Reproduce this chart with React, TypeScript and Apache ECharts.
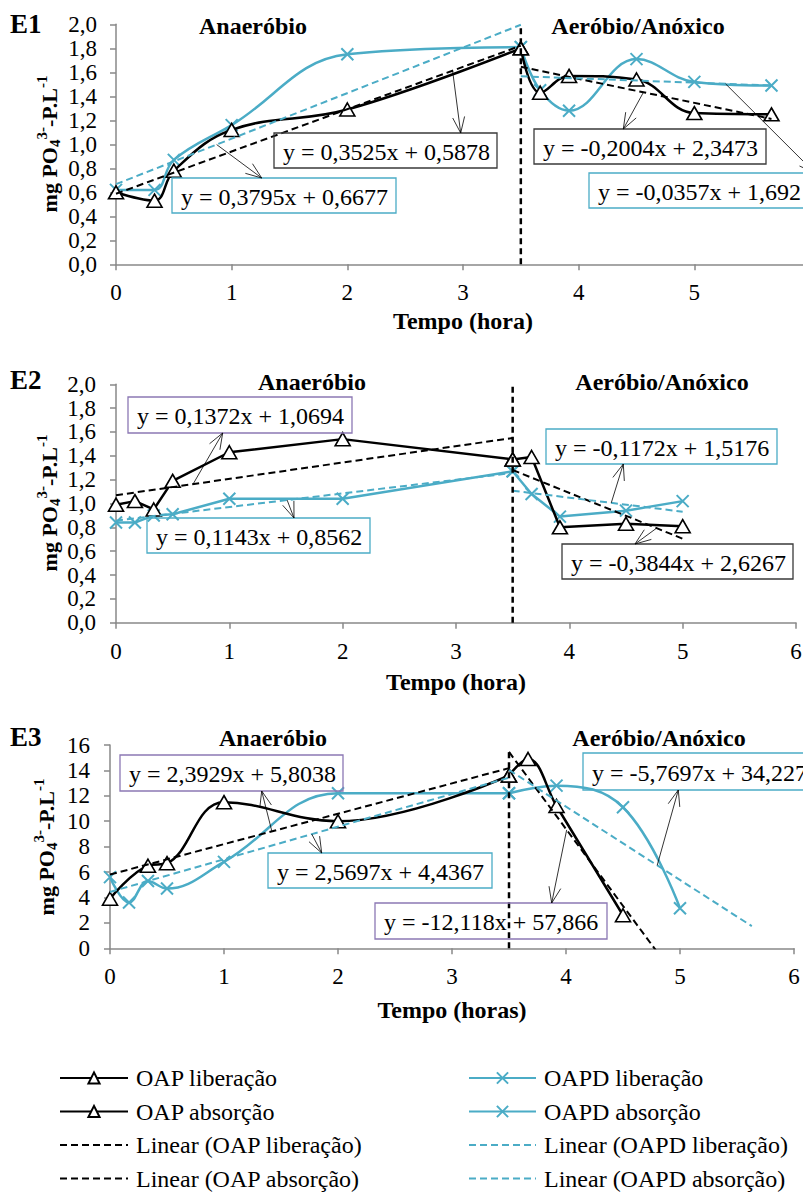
import React, { useEffect, useRef } from 'react';
import * as echarts from 'echarts';

// ---------- measured phosphate (mg PO4-P/L) per experiment ----------
// E1
const e1LibHours = [0, 0.333, 0.5, 1, 2, 3.5];
const e1AbsHours = [3.5, 3.667, 3.917, 4.5, 5, 5.667];
const e1OapLib = [0.6, 0.53, 0.78, 1.12, 1.29, 1.8];
const e1OapAbs = [1.8, 1.43, 1.57, 1.54, 1.26, 1.25];
const e1OapdLib = [0.62, 0.62, 0.87, 1.16, 1.75, 1.81];
const e1OapdAbs = [1.81, 1.45, 1.28, 1.71, 1.52, 1.49];

// E2
const e2LibHours = [0, 0.167, 0.333, 0.5, 1, 2, 3.5];
const e2AbsHours = [3.5, 3.667, 3.917, 4.5, 5];
const e2OapLib = [0.99, 1.02, 0.95, 1.19, 1.43, 1.54, 1.37];
const e2OapAbs = [1.37, 1.39, 0.8, 0.83, 0.81];
const e2OapdLib = [0.84, 0.84, 0.9, 0.91, 1.04, 1.04, 1.27];
const e2OapdAbs = [1.27, 1.08, 0.89, 0.94, 1.02];

// E3
const e3OapLibHours = [0, 0.333, 0.5, 1, 2, 3.5];
const e3OapdLibHours = [0, 0.167, 0.333, 0.5, 1, 2, 3.5];
const e3OapAbsHours = [3.5, 3.667, 3.917, 4.5];
const e3OapdAbsHours = [3.5, 3.917, 4.5, 5];
const e3OapLib = [3.9, 6.5, 6.7, 11.5, 10.0, 13.6];
const e3OapAbs = [13.6, 14.9, 11.2, 2.6];
const e3OapdLib = [5.6, 3.6, 5.3, 4.7, 6.8, 12.2, 12.2];
const e3OapdAbs = [12.2, 12.8, 11.1, 3.15];

// ---------- linear fits: [slope, intercept, first hour, last hour] ----------
const e1FitOapLib = [0.3525, 0.5878, 0, 3.5];
const e1FitOapdLib = [0.3795, 0.6677, 0, 3.5];
const e1FitOapAbs = [-0.2004, 2.3473, 3.5, 5.667];
const e1FitOapdAbs = [-0.0357, 1.692, 3.5, 5.667];

const e2FitOapLib = [0.1372, 1.0694, 0, 3.5];
const e2FitOapdLib = [0.1143, 0.8562, 0, 3.5];
const e2FitOapAbs = [-0.3844, 2.6267, 3.5, 5];
const e2FitOapdAbs = [-0.1172, 1.5176, 3.5, 5];

const e3FitOapLib = [2.3929, 5.8038, 0, 3.5];
const e3FitOapdLib = [2.5697, 4.4367, 0, 3.5];
const e3FitOapAbs = [-12.118, 57.866, 3.5, 4.8];
const e3FitOapdAbs = [-5.7697, 34.227, 3.5, 5.63];

// phase change (anaerobic -> aerobic/anoxic) and the top of its marker line
const phaseChangeHour = 3.5;
const phaseMarkTop = [2.0, 2.0, 15.5];

// axis ranges
const yMaxes = [2, 2, 16];
const ySteps = [0.2, 0.2, 2];
const xMax = 6;

// legend labels
const NAME_OAP_LIB = 'OAP liberação';
const NAME_OAP_ABS = 'OAP absorção';
const NAME_OAPD_LIB = 'OAPD liberação';
const NAME_OAPD_ABS = 'OAPD absorção';
const NAME_FIT_OAP_LIB = 'Linear (OAP liberação)';
const NAME_FIT_OAP_ABS = 'Linear (OAP absorção)';
const NAME_FIT_OAPD_LIB = 'Linear (OAPD liberação)';
const NAME_FIT_OAPD_ABS = 'Linear (OAPD absorção)';

// ---------- styling ----------
const W = 803;
const H = 1192;
const SERIF = 'Liberation Serif';
const BLUE = '#4BACC6';
const INK = '#000000';
const BOX_DARK = '#3a3a3a';
const BOX_PURPLE = '#8C78B4';
const AXIS = '#898989';
const X_MARK = 'path://M0,0L10,10M10,0L0,10';

type Fit = number[];

interface PanelData {
  oapLib: [number[], number[]];
  oapAbs: [number[], number[]];
  oapdLib: [number[], number[]];
  oapdAbs: [number[], number[]];
  fits: { oapLib: Fit; oapAbs: Fit; oapdLib: Fit; oapdAbs: Fit };
  smooth: boolean;
}

const panelData: PanelData[] = [
  {
    oapLib: [e1LibHours, e1OapLib],
    oapAbs: [e1AbsHours, e1OapAbs],
    oapdLib: [e1LibHours, e1OapdLib],
    oapdAbs: [e1AbsHours, e1OapdAbs],
    fits: { oapLib: e1FitOapLib, oapAbs: e1FitOapAbs, oapdLib: e1FitOapdLib, oapdAbs: e1FitOapdAbs },
    smooth: true,
  },
  {
    oapLib: [e2LibHours, e2OapLib],
    oapAbs: [e2AbsHours, e2OapAbs],
    oapdLib: [e2LibHours, e2OapdLib],
    oapdAbs: [e2AbsHours, e2OapdAbs],
    fits: { oapLib: e2FitOapLib, oapAbs: e2FitOapAbs, oapdLib: e2FitOapdLib, oapdAbs: e2FitOapdAbs },
    smooth: false,
  },
  {
    oapLib: [e3OapLibHours, e3OapLib],
    oapAbs: [e3OapAbsHours, e3OapAbs],
    oapdLib: [e3OapdLibHours, e3OapdLib],
    oapdAbs: [e3OapdAbsHours, e3OapdAbs],
    fits: { oapLib: e3FitOapLib, oapAbs: e3FitOapAbs, oapdLib: e3FitOapdLib, oapdAbs: e3FitOapdAbs },
    smooth: true,
  },
];

// page layout of the three panels (E1's last tick falls past the page edge)
const layouts = [
  {
    tag: 'E1', grid: { left: 116, top: 24.3, width: 694, height: 240 },
    xName: 'Tempo (hora)', nameGap: 45, tagY: 24, titleY: 26, anaerX: 253, aeroX: 638,
    yTitle: [49, 144], decimals: 1, yLabelMargin: 19, showMaxX: false,
  },
  {
    tag: 'E2', grid: { left: 116, top: 384.3, width: 680, height: 238.4 },
    xName: 'Tempo (hora)', nameGap: 47, tagY: 380, titleY: 382, anaerX: 312, aeroX: 662,
    yTitle: [49, 503], decimals: 1, yLabelMargin: 20, showMaxX: true,
  },
  {
    tag: 'E3', grid: { left: 110, top: 745, width: 684, height: 203.3 },
    xName: 'Tempo (horas)', nameGap: 50, tagY: 737, titleY: 738, anaerX: 273, aeroX: 659,
    yTitle: [46, 847], decimals: 0, yLabelMargin: 20, showMaxX: true,
  },
];

// equation boxes: which fit, hour where the arrow leaves the fit line, box [x, y, w, h], border, arrow tip
type FitKey = 'oapLib' | 'oapAbs' | 'oapdLib' | 'oapdAbs';
interface Note { fit: FitKey; at: number; box: number[]; border: string; tip: number[] }
const notes: Note[][] = [
  [
    { fit: 'oapLib', at: 2.91, box: [274, 133, 223, 35], border: BOX_DARK, tip: [460.7, 133] },
    { fit: 'oapdLib', at: 0.87, box: [172, 178, 224, 35], border: BLUE, tip: [261.7, 178] },
    { fit: 'oapAbs', at: 4.56, box: [534, 129, 232, 35], border: BOX_DARK, tip: [623.3, 129] },
    { fit: 'oapdAbs', at: 5.27, box: [589, 173, 240, 35], border: BLUE, tip: [815, 173] },
  ],
  [
    { fit: 'oapLib', at: 0.68, box: [128, 397, 224, 36], border: BOX_PURPLE, tip: [222.7, 433] },
    { fit: 'oapdLib', at: 1.51, box: [147, 518, 223, 35], border: BLUE, tip: [294, 518] },
    { fit: 'oapdAbs', at: 4.37, box: [546, 429, 231, 35], border: BLUE, tip: [623.3, 464] },
    { fit: 'oapAbs', at: 4.77, box: [562, 544, 231, 35], border: BOX_DARK, tip: [635, 544] },
  ],
  [
    { fit: 'oapLib', at: 1.42, box: [120, 755, 223, 36], border: BOX_PURPLE, tip: [261.7, 791] },
    { fit: 'oapdLib', at: 1.77, box: [268, 853, 224, 35], border: BLUE, tip: [321.7, 853] },
    { fit: 'oapdAbs', at: 4.8, box: [583, 753, 250, 37], border: BLUE, tip: [678.3, 790] },
    { fit: 'oapAbs', at: 4.006, box: [375, 903, 232, 36], border: BOX_PURPLE, tip: [551.7, 903] },
  ],
];

// ---------- helpers ----------
const commaNum = (v: number) => String(v).replace('.', ',');
const equation = (f: Fit) => `y = ${commaNum(f[0])}x + ${commaNum(f[1])}`;
const pairs = (xs: number[], ys: number[]) => xs.map((x, i) => [x, ys[i]]);

function measuredSeries(name: string, d: [number[], number[]], g: number, oap: boolean, smooth: boolean) {
  return {
    type: 'line',
    name,
    xAxisIndex: g,
    yAxisIndex: g,
    data: pairs(d[0], d[1]),
    smooth: smooth ? 0.4 : false,
    symbol: oap ? 'triangle' : X_MARK,
    symbolSize: oap ? [15, 13] : 12,
    lineStyle: { color: oap ? INK : BLUE, width: 2.5 },
    itemStyle: oap
      ? { color: '#ffffff', borderColor: INK, borderWidth: 1.6 }
      : { color: BLUE, borderColor: BLUE, borderWidth: 2 },
    emphasis: { disabled: true },
    z: oap ? 3 : 2,
  };
}

function fitSeries(name: string, f: Fit, g: number, color: string) {
  const [a, b, x0, x1] = f;
  return {
    type: 'line',
    name,
    xAxisIndex: g,
    yAxisIndex: g,
    data: [[x0, a * x0 + b], [x1, a * x1 + b]],
    symbol: 'none',
    lineStyle: { color, width: 2, type: [7, 4] },
    emphasis: { disabled: true },
    silent: true,
    z: 4,
  };
}

const textStyle = (size: number, bold = false) => ({
  fontFamily: SERIF,
  fontSize: size,
  fontWeight: bold ? 'bold' : 'normal',
  fill: INK,
});

function measureText(text: string, font: string) {
  const ctx = document.createElement('canvas').getContext('2d');
  if (!ctx) return text.length * 10;
  ctx.font = font;
  return ctx.measureText(text).width;
}

// rotated y-axis title with sub/superscripts
function yTitle(cx: number, cy: number) {
  const parts = [
    { t: 'mg PO', s: 22, dy: 0 },
    { t: '4', s: 15, dy: 6 },
    { t: '3-', s: 15, dy: -7 },
    { t: '-P.L', s: 22, dy: 0 },
    { t: '-1', s: 15, dy: -7 },
  ];
  const widths = parts.map((p) => measureText(p.t, `bold ${p.s}px "Liberation Serif"`));
  const total = widths.reduce((a, b) => a + b, 0);
  let x = -total / 2;
  const children = parts.map((p, i) => {
    const el = {
      type: 'text',
      x,
      y: p.dy,
      style: {
        text: p.t,
        ...textStyle(p.s, true),
        align: 'left', textAlign: 'left',
        verticalAlign: 'middle', textVerticalAlign: 'middle',
      },
    };
    x += widths[i];
    return el;
  });
  return { type: 'group', x: cx, y: cy, rotation: Math.PI / 2, children };
}

function label(text: string, x: number, y: number, size: number, bold: boolean, align = 'center') {
  return {
    type: 'text',
    x,
    y,
    style: {
      text,
      ...textStyle(size, bold),
      align, textAlign: align,
      verticalAlign: 'middle', textVerticalAlign: 'middle',
    },
  };
}

function arrow(tail: number[], tip: number[]) {
  const ang = Math.atan2(tip[1] - tail[1], tip[0] - tail[0]);
  const L = 17;
  const spread = 0.36;
  const b1 = [tip[0] - L * Math.cos(ang - spread), tip[1] - L * Math.sin(ang - spread)];
  const b2 = [tip[0] - L * Math.cos(ang + spread), tip[1] - L * Math.sin(ang + spread)];
  return [
    {
      type: 'line',
      shape: { x1: tail[0], y1: tail[1], x2: tip[0], y2: tip[1] },
      style: { stroke: INK, lineWidth: 0.8 },
      z: 20,
    },
    {
      type: 'polyline',
      shape: { points: [b1, tip, b2] },
      style: { stroke: INK, lineWidth: 0.8, fill: null },
      z: 20,
    },
  ];
}

function buildOption() {
  const grid: any[] = [];
  const xAxis: any[] = [];
  const yAxis: any[] = [];
  const series: any[] = [];

  layouts.forEach((lay, g) => {
    const pd = panelData[g];
    grid.push({ ...lay.grid, containLabel: false, outerBoundsMode: 'none' });
    xAxis.push({
      type: 'value', gridIndex: g, min: 0, max: xMax, interval: 1,
      name: lay.xName, nameLocation: 'middle', nameGap: lay.nameGap,
      nameTextStyle: { fontFamily: SERIF, fontWeight: 'bold', fontSize: 24, color: INK },
      axisLine: { show: true, onZero: false, lineStyle: { color: AXIS, width: 1.5 } },
      axisTick: { show: true, inside: false, length: 6, lineStyle: { color: AXIS, width: 1.5 } },
      axisLabel: { fontFamily: SERIF, fontSize: 23, color: INK, margin: 17, showMaxLabel: lay.showMaxX },
      splitLine: { show: false },
    });
    const dec = lay.decimals;
    yAxis.push({
      type: 'value', gridIndex: g, min: 0, max: yMaxes[g], interval: ySteps[g],
      axisLine: { show: true, onZero: false, lineStyle: { color: AXIS, width: 1.5 } },
      axisTick: { show: true, inside: false, length: 6, lineStyle: { color: AXIS, width: 1.5 } },
      axisLabel: {
        fontFamily: SERIF, fontSize: 23, color: INK, margin: lay.yLabelMargin,
        formatter: (v: number) => v.toFixed(dec).replace('.', ','),
      },
      splitLine: { show: false },
    });

    series.push(measuredSeries(NAME_OAPD_LIB, pd.oapdLib, g, false, pd.smooth));
    series.push(measuredSeries(NAME_OAPD_ABS, pd.oapdAbs, g, false, pd.smooth));
    series.push(measuredSeries(NAME_OAP_LIB, pd.oapLib, g, true, pd.smooth));
    series.push(measuredSeries(NAME_OAP_ABS, pd.oapAbs, g, true, pd.smooth));
    series.push(fitSeries(NAME_FIT_OAP_LIB, pd.fits.oapLib, g, INK));
    series.push(fitSeries(NAME_FIT_OAP_ABS, pd.fits.oapAbs, g, INK));
    series.push(fitSeries(NAME_FIT_OAPD_LIB, pd.fits.oapdLib, g, BLUE));
    series.push(fitSeries(NAME_FIT_OAPD_ABS, pd.fits.oapdAbs, g, BLUE));
    // phase change marker
    series.push({
      type: 'line', name: `phase-${g}`, xAxisIndex: g, yAxisIndex: g,
      data: [[phaseChangeHour, 0], [phaseChangeHour, phaseMarkTop[g]]],
      symbol: 'none', silent: true,
      lineStyle: { color: INK, width: 2.5, type: [6, 4] },
      emphasis: { disabled: true },
      z: 5,
    });
  });

  const hidden = { opacity: 0 };
  const legendBase = {
    orient: 'vertical', top: 1066, height: 150, padding: 0, itemHeight: 14, itemGap: 9.5,
    selectedMode: false,
    textStyle: { fontFamily: SERIF, fontSize: 24, color: INK, padding: [0, 0, 0, 3] },
  };
  const legend = [
    {
      ...legendBase, left: 59, itemWidth: 68,
      data: [
        { name: NAME_OAP_LIB }, { name: NAME_OAP_ABS },
        { name: NAME_FIT_OAP_LIB, itemStyle: hidden }, { name: NAME_FIT_OAP_ABS, itemStyle: hidden },
      ],
    },
    {
      ...legendBase, left: 468, itemWidth: 67,
      data: [
        { name: NAME_OAPD_LIB }, { name: NAME_OAPD_ABS },
        { name: NAME_FIT_OAPD_LIB, itemStyle: hidden }, { name: NAME_FIT_OAPD_ABS, itemStyle: hidden },
      ],
    },
  ];

  return {
    animation: false, backgroundColor: '#ffffff',
    textStyle: { fontFamily: SERIF },
    grid, xAxis, yAxis, series, legend,
  };
}

function buildGraphics(chart: echarts.ECharts) {
  const els: any[] = [];
  layouts.forEach((lay, g) => {
    els.push(label(lay.tag, 10, lay.tagY, 27, true, 'left'));
    els.push(label('Anaeróbio', lay.anaerX, lay.titleY, 24, true));
    els.push(label('Aeróbio/Anóxico', lay.aeroX, lay.titleY, 24, true));
    els.push(yTitle(lay.yTitle[0], lay.yTitle[1]));

    notes[g].forEach((n) => {
      const f = panelData[g].fits[n.fit];
      const [bx, by, bw, bh] = n.box;
      els.push({
        type: 'rect',
        shape: { x: bx, y: by, width: bw, height: bh },
        style: { fill: null, stroke: n.border, lineWidth: 1.3 },
        z: 10,
      });
      els.push({ ...label(equation(f), bx + 9, by + bh / 2 + 1, 24, false, 'left'), z: 11 });
      const tail = chart.convertToPixel({ gridIndex: g } as any, [n.at, f[0] * n.at + f[1]]) as number[];
      els.push(...arrow(tail, n.tip));
    });
  });
  return els;
}

export default function App() {
  const ref = useRef<HTMLDivElement>(null);

  useEffect(() => {
    if (!ref.current) return;
    const chart = echarts.init(ref.current, null, { renderer: 'svg', width: W, height: H });
    chart.setOption(buildOption() as any);
    chart.setOption({ graphic: { elements: buildGraphics(chart) } } as any);
    return () => chart.dispose();
  }, []);

  return (
    <div
      ref={ref}
      style={{ position: 'absolute', left: 0, top: 0, width: W, height: H, background: '#fff', overflow: 'hidden' }}
    />
  );
}
